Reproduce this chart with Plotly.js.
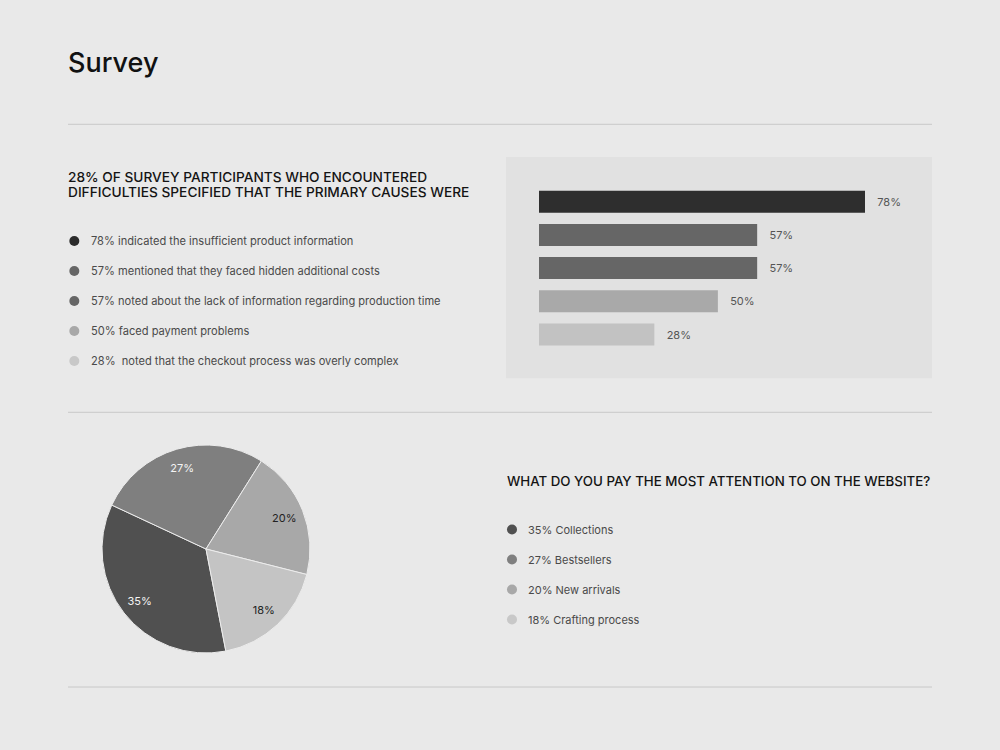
<!DOCTYPE html>
<html>
<head>
<meta charset="utf-8">
<script src="https://cdn.plot.ly/plotly-3.0.1.min.js"></script>
<style>
  html, body { margin: 0; padding: 0; background: #e9e9e9; }
  #chart { width: 1000px; height: 750px; }
</style>
</head>
<body>
<div id="chart"></div>
<script>
// causes of difficulties (top block)
const causeLabels = [
    '78% indicated the insufficient product information',
    '57% mentioned that they faced hidden additional costs',
    '57% noted about the lack of information regarding production time',
    '50% faced payment problems',
    '28%\u00a0 noted that the checkout process was overly complex'
];
const causePct = [78, 57, 57, 50, 28];
// bar lengths as drawn in the picture, in the units of the 78% bar
const causeBarLen = [78, 52.2, 52.2, 42.8, 27.6];
const causeColors = ['#2e2e2e', '#666666', '#666666', '#a9a9a9', '#c2c2c2'];
const causeDotColors = ['#2b2b2b', '#666666', '#666666', '#a8a8a8', '#c8c8c8'];

// website attention (bottom block)
const focusLabels = ['35% Collections', '27% Bestsellers', '20% New arrivals', '18% Crafting process'];
const focusPct = [35, 27, 20, 18];
const focusColors = ['#505050', '#7f7f7f', '#a8a8a8', '#c4c4c4'];
const focusDotColors = ['#505050', '#7f7f7f', '#a8a8a8', '#c8c8c8'];
const focusTextColors = ['#f4f4f4', '#f4f4f4', '#222222', '#222222'];

const FONT = 'Inter, "Noto Sans", sans-serif';
const px = x => x / 1000;
const py = y => 1 - y / 750;

const traces = [
    {
        type: 'bar',
        orientation: 'h',
        x: causeBarLen,
        y: causeLabels,
        xaxis: 'x', yaxis: 'y',
        marker: { color: causeColors, line: { width: 0 } },
        text: causePct.map(v => v + '%'),
        texttemplate: '\u00a0\u00a0\u00a0%{text}',
        textposition: 'outside',
        constraintext: 'none',
        cliponaxis: false,
        textfont: { family: FONT, size: 11, color: '#555555' },
        hoverinfo: 'skip'
    },
    {
        type: 'scatter',
        mode: 'markers',
        x: causeLabels.map(() => 0),
        y: causeLabels,
        xaxis: 'x2', yaxis: 'y2',
        marker: { size: 10, color: causeDotColors },
        hoverinfo: 'skip'
    },
    {
        type: 'pie',
        values: focusPct,
        labels: focusLabels,
        sort: false,
        direction: 'clockwise',
        rotation: 169,
        domain: { x: [px(102), px(310)], y: [py(653), py(445)] },
        marker: { colors: focusColors, line: { color: '#ececec', width: 1 } },
        textinfo: 'none',
        hoverinfo: 'skip'
    },
    {
        // transparent ring that only carries the slice labels
        type: 'pie',
        values: focusPct,
        labels: focusLabels,
        sort: false,
        direction: 'clockwise',
        rotation: 169,
        hole: 0.62,
        domain: { x: [px(102), px(310)], y: [py(653), py(445)] },
        marker: { colors: focusPct.map(() => 'rgba(0,0,0,0)'), line: { width: 0 } },
        texttemplate: '%{value}%',
        textposition: 'inside',
        insidetextorientation: 'horizontal',
        textfont: { family: FONT, size: 11, color: focusTextColors },
        hoverinfo: 'skip'
    },
    {
        type: 'scatter',
        mode: 'markers',
        x: focusLabels.map(() => 0),
        y: focusLabels,
        xaxis: 'x3', yaxis: 'y3',
        marker: { size: 10, color: focusDotColors },
        hoverinfo: 'skip'
    }
];

const hidden = { visible: false, fixedrange: true };

const headFont = { family: FONT, size: 13.7, color: '#141414', weight: 500 };
const annotations = [
    { text: 'Survey', x: px(66), y: py(63), font: { family: FONT, size: 27, color: '#111111', weight: 500 } },
    { text: '28% OF SURVEY PARTICIPANTS WHO ENCOUNTERED', x: px(66), y: py(176.7), font: headFont },
    { text: 'DIFFICULTIES SPECIFIED THAT THE PRIMARY CAUSES WERE', x: px(66), y: py(191.7), font: headFont },
    { text: 'WHAT DO YOU PAY THE MOST ATTENTION TO ON THE WEBSITE?', x: px(505), y: py(480.7),
      font: Object.assign({}, headFont, { size: 13.3 }) }
];
causeLabels.forEach(lbl => annotations.push({
    text: lbl, x: px(89), yref: 'y2', y: lbl,
    font: { family: FONT, size: 11.1, color: '#4a4a4a' }
}));
focusLabels.forEach(lbl => annotations.push({
    text: lbl, x: px(526), yref: 'y3', y: lbl,
    font: { family: FONT, size: 11, color: '#4a4a4a' }
}));
annotations.forEach(a => {
    a.xref = 'paper';
    a.yref = a.yref || 'paper';
    a.xanchor = 'left';
    a.yanchor = 'middle';
    a.showarrow = false;
});

const rule = y => ({
    type: 'line', xref: 'paper', yref: 'paper', layer: 'below',
    x0: px(68), x1: px(932), y0: py(y), y1: py(y),
    line: { color: '#c8c8c8', width: 1 }
});

const layout = {
    width: 1000,
    height: 750,
    margin: { t: 0, b: 0, l: 0, r: 0 },
    paper_bgcolor: '#e9e9e9',
    plot_bgcolor: 'rgba(0,0,0,0)',
    showlegend: false,
    bargap: 0.337,
    font: { family: FONT, color: '#4a4a4a' },
    xaxis: Object.assign({ domain: [px(539), px(865)], range: [0, 78] }, hidden),
    yaxis: Object.assign({ domain: [py(351.1), py(185.1)], type: 'category', range: [4.5, -0.5] }, hidden),
    xaxis2: Object.assign({ domain: [px(64.3), px(84.3)], range: [-1, 1], anchor: 'y2' }, hidden),
    yaxis2: Object.assign({ domain: [py(376), py(226)], type: 'category', range: [4.5, -0.5], anchor: 'x2' }, hidden),
    xaxis3: Object.assign({ domain: [px(502), px(522)], range: [-1, 1], anchor: 'y3' }, hidden),
    yaxis3: Object.assign({ domain: [py(634.5), py(514.5)], type: 'category', range: [3.5, -0.5], anchor: 'x3' }, hidden),
    shapes: [
        {
            type: 'rect', xref: 'paper', yref: 'paper', layer: 'below',
            x0: px(506), x1: px(932), y0: py(378.3), y1: py(157),
            fillcolor: '#e1e1e1', line: { width: 0 }
        },
        rule(124.3), rule(412.3), rule(687)
    ],
    annotations: annotations
};

Plotly.newPlot('chart', traces, layout, { displayModeBar: false, staticPlot: true });
</script>
</body>
</html>
